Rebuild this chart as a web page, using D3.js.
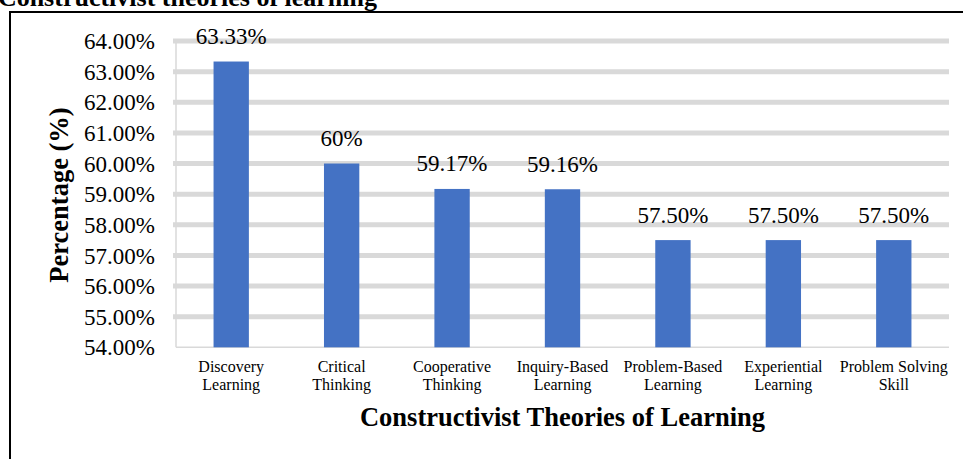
<!DOCTYPE html>
<html>
<head>
<meta charset="utf-8">
<script src="https://cdn.jsdelivr.net/npm/d3@7/dist/d3.min.js"></script>
<style>
  html, body { margin: 0; padding: 0; background: #fff; overflow: hidden; }
  svg { display: block; }
  svg text { font-family: 'Liberation Serif', 'Times New Roman', serif !important; }
</style>
</head>
<body>
<svg id="chart" width="963" height="459"></svg>
<script>
const categories = [
  ["Discovery", "Learning"],
  ["Critical", "Thinking"],
  ["Cooperative", "Thinking"],
  ["Inquiry-Based", "Learning"],
  ["Problem-Based", "Learning"],
  ["Experiential", "Learning"],
  ["Problem Solving", "Skill"]
];
const values = [63.33, 60, 59.17, 59.16, 57.50, 57.50, 57.50];
const valueLabels = ["63.33%", "60%", "59.17%", "59.16%", "57.50%", "57.50%", "57.50%"];
const yTicks = [54, 55, 56, 57, 58, 59, 60, 61, 62, 63, 64];
const chartTitle = "Constructivist theories of learning";
const xTitle = "Constructivist Theories of Learning";
const yTitle = "Percentage (%)";

const svg = d3.select("#chart");
const plot = { left: 176, right: 949, top: 41, bottom: 347.3 };

// outer frame
svg.append("rect")
  .attr("x", 10).attr("y", 12)
  .attr("width", 980).attr("height", 480)
  .attr("fill", "none").attr("stroke", "#000").attr("stroke-width", 2);

// top title (partly cut off at the top, as in the reference)
svg.append("text")
  .attr("x", 377).attr("y", 6)
  .attr("text-anchor", "end")
  .attr("font-weight", "bold")
  .attr("font-size", 26)
  .attr("fill", "#000")
  .text(chartTitle);

const x = d3.scaleBand()
  .domain(categories.map((c, i) => i))
  .range([plot.left, plot.right])
  .paddingInner(0.68).paddingOuter(0.34);

const y = d3.scaleLinear().domain([54, 64]).range([plot.bottom, plot.top]);

// gridlines
svg.append("g").selectAll("line")
  .data(yTicks.filter(t => t > 54))
  .join("line")
  .attr("x1", plot.left - 3).attr("x2", plot.right)
  .attr("y1", d => y(d)).attr("y2", d => y(d))
  .attr("stroke", "#d9d9d9").attr("stroke-width", 5);

// axis lines
svg.append("line")
  .attr("x1", plot.left).attr("x2", plot.left)
  .attr("y1", plot.top - 2).attr("y2", plot.bottom)
  .attr("stroke", "#d9d9d9").attr("stroke-width", 1.5);
svg.append("line")
  .attr("x1", plot.left).attr("x2", plot.right)
  .attr("y1", plot.bottom).attr("y2", plot.bottom)
  .attr("stroke", "#d9d9d9").attr("stroke-width", 1.5);

// y tick labels
const yAxis = d3.axisLeft(y).tickValues(yTicks)
  .tickFormat(d => d3.format(".2f")(d) + "%").tickSize(0).tickPadding(0);
const ya = svg.append("g").attr("transform", `translate(155,0)`).call(yAxis);
ya.attr("font-family", null).attr("font-size", null);
ya.select(".domain").remove();
ya.selectAll("text")
  .attr("font-size", 23).attr("fill", "#000").attr("dy", "0.33em");

// bars
svg.append("g").selectAll("rect")
  .data(values)
  .join("rect")
  .attr("x", (d, i) => x(i))
  .attr("width", x.bandwidth())
  .attr("y", d => y(d))
  .attr("height", d => plot.bottom - y(d))
  .attr("fill", "#4472C4");

// data labels
svg.append("g").selectAll("text")
  .data(values)
  .join("text")
  .attr("x", (d, i) => x(i) + x.bandwidth() / 2)
  .attr("y", d => y(d) - 17.5)
  .attr("text-anchor", "middle")
  .attr("font-size", 23).attr("fill", "#000")
  .text((d, i) => valueLabels[i]);

// x category labels
const xl = svg.append("g").selectAll("text")
  .data(categories)
  .join("text")
  .attr("x", (d, i) => x(i) + x.bandwidth() / 2)
  .attr("y", 372)
  .attr("text-anchor", "middle")
  .attr("font-size", 16).attr("fill", "#000");
xl.selectAll("tspan")
  .data((d, i) => d.map(s => ({ s, cx: x(i) + x.bandwidth() / 2 })))
  .join("tspan")
  .attr("x", d => d.cx)
  .attr("dy", (d, j) => j === 0 ? 0 : 18)
  .text(d => d.s);

// x axis title
svg.append("text")
  .attr("x", (plot.left + plot.right) / 2).attr("y", 426)
  .attr("text-anchor", "middle")
  .attr("font-weight", "bold").attr("font-size", 26.5).attr("fill", "#000")
  .text(xTitle);

// y axis title
svg.append("text")
  .attr("transform", `translate(68,195) rotate(-90)`)
  .attr("text-anchor", "middle")
  .attr("font-weight", "bold").attr("font-size", 26.5).attr("fill", "#000")
  .text(yTitle);
</script>
</body>
</html>
